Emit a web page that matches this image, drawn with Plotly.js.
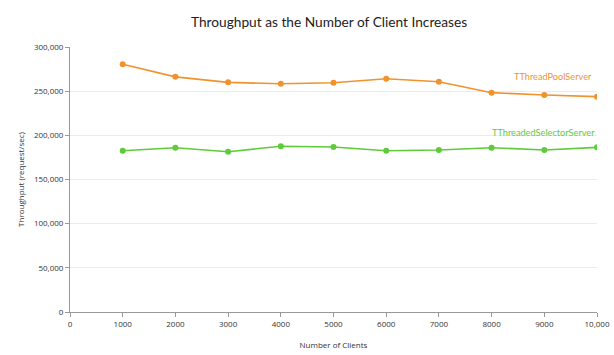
<!DOCTYPE html>
<html><head><meta charset="utf-8">
<script src="https://cdn.plot.ly/plotly-3.0.1.min.js"></script>
<style>html,body{margin:0;padding:0;background:#fff}#chart{width:614px;height:355px}</style>
</head><body><div id="chart"></div>
<script>
const clients = [1000, 2000, 3000, 4000, 5000, 6000, 7000, 8000, 9000, 10000];
const poolServer = [280400, 266200, 260000, 258400, 259600, 264000, 260600, 248300, 245600, 243800];
const selectorServer = [182600, 186000, 181500, 187600, 186800, 182600, 183400, 186000, 183400, 186400];
const seriesNames = ["TThreadPoolServer", "TThreadedSelectorServer"];
const seriesColors = ["#f0932e", "#5fcb3a"];
const xTicks = [0,1000,2000,3000,4000,5000,6000,7000,8000,9000,10000];
const xTickText = ["0","1000","2000","3000","4000","5000","6000","7000","8000","9000","10,000"];
const yTicks = [0,50000,100000,150000,200000,250000,300000];
const yTickText = ["0","50,000","100,000","150,000","200,000","250,000","300,000"];

const font = "'Open Sans', 'DejaVu Sans', sans-serif";
const labelFont = "Lato, 'Open Sans', sans-serif";
const labelShift = [20, 15];
const labelXShift = [-3, 0];
const traces = [poolServer, selectorServer].map((ys, i) => ({
  x: clients, y: ys, type: 'scatter', mode: 'lines+markers', name: seriesNames[i],
  line: {color: seriesColors[i], width: 1.6},
  marker: {color: seriesColors[i], size: 6},
  hoverinfo: 'none'
}));
const annotations = [poolServer, selectorServer].map((ys, i) => ({
  x: clients[clients.length-1], y: ys[ys.length-1], xref: 'x', yref: 'y',
  text: seriesNames[i], showarrow: false, xanchor: 'right', yanchor: 'middle',
  yshift: labelShift[i], xshift: labelXShift[i], font: {family: labelFont, size: 9.2, color: seriesColors[i]}
}));
const layout = {
  width: 614, height: 355,
  margin: {l: 70, r: 17, t: 47, b: 43},
  paper_bgcolor: '#fff', plot_bgcolor: '#fff',
  showlegend: false,
  title: {text: 'Throughput as the Number of Client Increases', x: 0.536, xanchor: 'center', y: 0.937, yanchor: 'middle',
    font: {family: labelFont, size: 13.7, color: '#222'}},
  xaxis: {range: [0, 10000], tickvals: xTicks, ticktext: xTickText, showgrid: false, zeroline: false,
    showline: true, linecolor: '#999', linewidth: 1, ticks: 'outside', ticklen: 4, tickcolor: '#999',
    tickfont: {family: font, size: 8, color: '#333'},
    title: {text: 'Number of Clients', font: {family: font, size: 8, color: '#333'}, standoff: 14}},
  yaxis: {range: [0, 300000], tickvals: yTicks, ticktext: yTickText, showgrid: true, gridcolor: '#ebebeb',
    zeroline: false, showline: true, linecolor: '#999', linewidth: 1, ticks: 'outside', ticklen: 4, tickcolor: '#999',
    tickfont: {family: font, size: 8, color: '#333'},
    title: {text: 'Throughput (request/sec)', font: {family: font, size: 8, color: '#333'}, standoff: 8}},
  annotations: annotations
};
Plotly.newPlot('chart', traces, layout, {staticPlot: true, displayModeBar: false});
</script></body></html>
